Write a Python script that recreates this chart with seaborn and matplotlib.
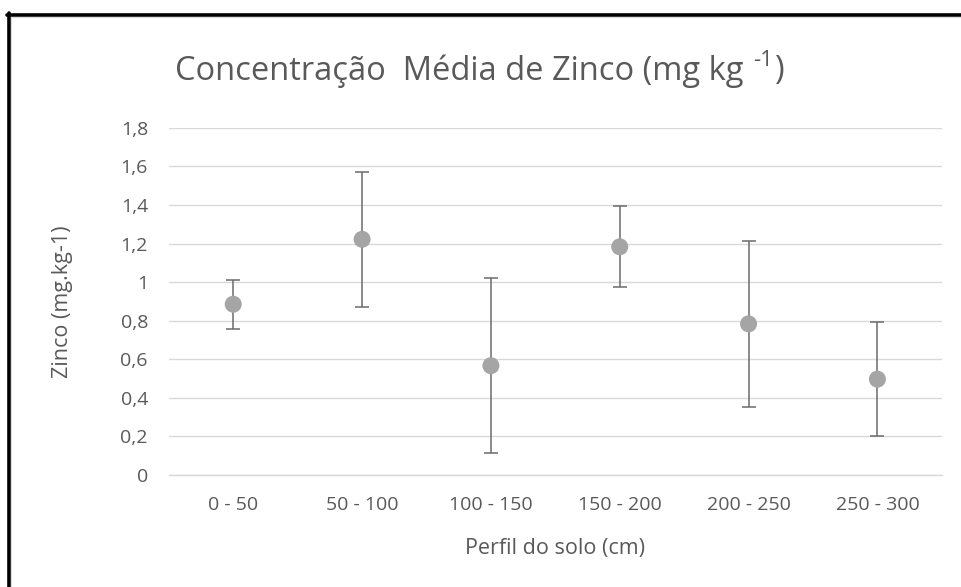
import matplotlib
matplotlib.use("Agg")
import matplotlib.pyplot as plt
import seaborn as sns
import pandas as pd
from matplotlib.lines import Line2D
from matplotlib.ticker import FuncFormatter

categories = ["0 - 50", "50 - 100", "100 - 150", "150 - 200", "200 - 250", "250 - 300"]
means = [0.885, 1.222, 0.566, 1.183, 0.783, 0.496]
errors = [0.128, 0.350, 0.453, 0.210, 0.431, 0.296]
y_ticks = [0, 0.2, 0.4, 0.6, 0.8, 1.0, 1.2, 1.4, 1.6, 1.8]
title_main = "Concentração  Média de Zinco (mg kg "
title_sup = "-1"
title_end = ")"

sns.set_theme(style="white")
plt.rcParams["font.family"] = ["Open Sans", "DejaVu Sans"]

text_col = "#595959"
grid_col = "#D9D9D9"

df = pd.DataFrame({"Perfil": categories, "Zinco": means})

fig = plt.figure(figsize=(9.62, 5.87), dpi=100)
fig.patch.set_facecolor("white")
ax = fig.add_axes([0.1755, 0.1913, 0.8035, 0.5907])

ax.errorbar(categories, means, yerr=errors, fmt="none", ecolor="#6B6B6B",
            elinewidth=1.1, capsize=5, capthick=1.1, zorder=2)
sns.scatterplot(data=df, x="Perfil", y="Zinco", ax=ax, color="#A5A5A5",
                s=150, edgecolor="none", zorder=3)

ax.set_xlim(-0.5, len(categories) - 0.5)
ax.set_ylim(0, 1.8)
ax.set_yticks(y_ticks)
ax.yaxis.set_major_formatter(FuncFormatter(
    lambda v, p: ("%g" % round(v, 1)).replace(".", ",")))
ax.yaxis.grid(True, color=grid_col, linewidth=1.0)
ax.set_axisbelow(True)
for s in ["top", "right", "left"]:
    ax.spines[s].set_visible(False)
ax.spines["bottom"].set_color(grid_col)
ax.spines["bottom"].set_linewidth(1.0)
ax.tick_params(axis="both", length=0, labelsize=14, colors=text_col)
ax.tick_params(axis="y", pad=15)
ax.tick_params(axis="x", pad=15)

ax.set_xlabel("Perfil do solo (cm)", fontsize=15.5, color=text_col)
ax.set_ylabel("Zinco (mg.kg-1)", fontsize=15.5, color=text_col)
ax.xaxis.label.set_va("center")
ax.xaxis.set_label_coords(0.5, -0.214)
ax.yaxis.label.set_va("center")
ax.yaxis.set_label_coords(-0.138, 0.5)

# title with superscript drawn as separate text pieces
renderer = fig.canvas.get_renderer()
t1 = fig.text(175 / 962, 1 - 71 / 587, title_main, ha="left", va="center",
              fontsize=23.5, color=text_col)
bb = t1.get_window_extent(renderer)
t2 = fig.text((bb.x1 + 1) / 962, 1 - 60 / 587, title_sup, ha="left", va="center",
              fontsize=16, color=text_col)
bb2 = t2.get_window_extent(renderer)
fig.text((bb2.x1 + 1) / 962, 1 - 71 / 587, title_end, ha="left", va="center",
         fontsize=23.5, color=text_col)

# frame (top and left edges visible in reference)
fig.add_artist(Line2D([7 / 962, 1], [1 - 14.5 / 587, 1 - 14.5 / 587],
                      color="black", linewidth=2.6, transform=fig.transFigure))
fig.add_artist(Line2D([8.8 / 962, 8.8 / 962], [0, 1 - 13 / 587],
                      color="black", linewidth=2.6, transform=fig.transFigure))
fig.add_artist(Line2D([11 / 962, 1], [1 - 16.8 / 587, 1 - 16.8 / 587],
                      color=grid_col, linewidth=0.8, transform=fig.transFigure))
fig.add_artist(Line2D([11 / 962, 11 / 962], [0, 1 - 16.8 / 587],
                      color=grid_col, linewidth=0.8, transform=fig.transFigure))

fig.savefig("out.png", dpi=100, facecolor="white")
